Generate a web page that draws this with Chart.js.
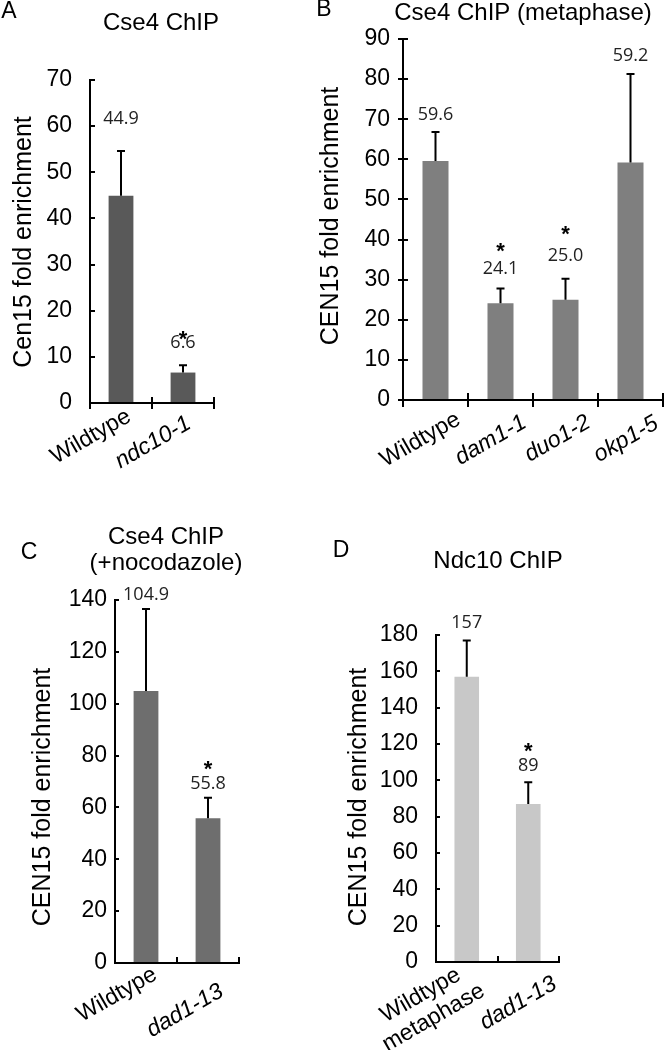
<!DOCTYPE html>
<html>
<head>
<meta charset="utf-8">
<script src="https://cdn.jsdelivr.net/npm/chart.js@4.4.1/dist/chart.umd.min.js"></script>
<style>
  body { margin: 0; background: #fff; width: 665px; height: 1050px; position: relative; overflow: hidden; }
  canvas { position: absolute; }
</style>
</head>
<body>
<canvas id="chartA" width="225" height="510" style="left:0;top:0"></canvas>
<canvas id="chartB" width="355" height="510" style="left:310px;top:0"></canvas>
<canvas id="chartC" width="250" height="530" style="left:0;top:520px"></canvas>
<canvas id="chartD" width="245" height="530" style="left:330px;top:520px"></canvas>
<script>
// Panel A - Cse4 ChIP
const aCategories = ['Wildtype', 'ndc10-1'];
const aValues = [44.9, 6.6];
const aErrors = [9.7, 1.6];
const aValueLabels = ['44.9', '6.6'];
const aSignificant = [false, true];
const aYMax = 70, aYStep = 10;

// Panel B - Cse4 ChIP (metaphase)
const bCategories = ['Wildtype', 'dam1-1', 'duo1-2', 'okp1-5'];
const bValues = [59.6, 24.1, 25.0, 59.2];
const bErrors = [7.2, 3.7, 5.2, 22.1];
const bValueLabels = ['59.6', '24.1', '25.0', '59.2'];
const bSignificant = [false, true, true, false];
const bYMax = 90, bYStep = 10;

// Panel C - Cse4 ChIP (+nocodazole)
const cCategories = ['Wildtype', 'dad1-13'];
const cValues = [104.9, 55.8];
const cErrors = [31.6, 7.9];
const cValueLabels = ['104.9', '55.8'];
const cSignificant = [false, true];
const cYMax = 140, cYStep = 20;

// Panel D - Ndc10 ChIP
const dCategories = [['Wildtype', 'metaphase'], 'dad1-13'];
const dValues = [157, 87];
const dErrors = [20, 12];
const dValueLabels = ['157', '89'];
const dSignificant = [false, true];
const dYMax = 180, dYStep = 20;

const AXIS_FONT = 'Liberation Sans';
const VALUE_FONT = 'Open Sans';
const TICK_SIZE = 23;

// error bars, value labels, stars, rotated category labels, letter, titles
const panelDecor = {
    id: 'panelDecor',
    afterDatasetsDraw(chart, args, o) {
        const ctx = chart.ctx;
        const xs = chart.scales.x, ys = chart.scales.y;
        const area = chart.chartArea;
        const data = chart.data.datasets[0].data;
        ctx.save();
        ctx.strokeStyle = '#000';
        ctx.lineWidth = 2;

        // inner halves of tick marks that cross the axis
        if (o.innerX) {
            const n = data.length;
            ctx.beginPath();
            for (let k = 1; k <= n; k++) {
                const x = Math.round(area.left + (area.right - area.left) * k / n);
                ctx.moveTo(x, area.bottom);
                ctx.lineTo(x, area.bottom - o.innerX);
            }
            ctx.stroke();
        }
        if (o.innerY) {
            ctx.beginPath();
            ys.ticks.forEach((t, i) => {
                const y = Math.round(ys.getPixelForTick(i));
                ctx.moveTo(area.left, y);
                ctx.lineTo(area.left + o.innerY, y);
            });
            ctx.stroke();
        }

        chart.getDatasetMeta(0).data.forEach((bar, i) => {
            const top = ys.getPixelForValue(data[i] + o.errors[i]);
            ctx.beginPath();
            ctx.moveTo(bar.x, bar.y);
            ctx.lineTo(bar.x, top);
            ctx.moveTo(bar.x - 4, top);
            ctx.lineTo(bar.x + 4, top);
            ctx.stroke();

            const ly = top - o.labelGaps[i];
            ctx.fillStyle = '#222';
            ctx.textAlign = 'center';
            ctx.textBaseline = 'middle';
            ctx.font = '18px "' + VALUE_FONT + '"';
            ctx.fillText(o.valueLabels[i], bar.x, ly);
            if (o.significant[i]) {
                ctx.fillStyle = '#000';
                ctx.font = 'bold 22px "' + AXIS_FONT + '"';
                ctx.textBaseline = 'alphabetic';
                ctx.fillText('*', bar.x, ly - o.starGaps[i] + 0.57 * 22);
            }
        });

        // rotated category labels, mutants in italics
        ctx.fillStyle = '#000';
        chart.data.labels.forEach((label, i) => {
            const lines = Array.isArray(label) ? label : [label];
            ctx.save();
            ctx.translate(xs.getPixelForValue(i) + o.xLabels.dx[i], area.bottom + o.xLabels.dy[i]);
            ctx.rotate(-30 * Math.PI / 180);
            ctx.font = (i > 0 ? 'italic ' : '') + TICK_SIZE + 'px "' + AXIS_FONT + '"';
            ctx.textAlign = 'right';
            ctx.textBaseline = 'alphabetic';
            const w0 = ctx.measureText(lines[0]).width;
            lines.forEach((line, j) => {
                const w = ctx.measureText(line).width;
                ctx.fillText(line, (w - w0) / 2, TICK_SIZE * 0.716 + j * 26);
            });
            ctx.restore();
        });

        ctx.textAlign = 'center';
        ctx.textBaseline = 'middle';
        ctx.font = '23px "' + AXIS_FONT + '"';
        ctx.fillText(o.letter[0], o.letter[1], o.letter[2]);
        ctx.font = '24px "' + AXIS_FONT + '"';
        o.title.lines.forEach((line, i) => {
            ctx.fillText(line, o.title.x, o.title.y + i * o.title.lineHeight);
        });
        ctx.save();
        ctx.translate(o.yTitle.x, o.yTitle.y);
        ctx.rotate(-Math.PI / 2);
        ctx.font = '25px "' + AXIS_FONT + '"';
        ctx.fillText(o.yTitle.text, 0, 0);
        ctx.restore();
        ctx.restore();
    }
};

function renderPanel(id, p) {
    return new Chart(document.getElementById(id), {
        type: 'bar',
        data: {
            labels: p.categories,
            datasets: [{
                data: p.values,
                backgroundColor: p.color,
                borderWidth: 0,
                categoryPercentage: 1,
                barPercentage: 0.4
            }]
        },
        options: {
            responsive: false,
            animation: false,
            events: [],
            layout: { padding: p.padding },
            plugins: {
                legend: { display: false },
                tooltip: { enabled: false },
                panelDecor: p.decor
            },
            scales: {
                x: {
                    grid: { drawOnChartArea: false, offset: true, tickLength: p.xTick, lineWidth: 2, color: '#000' },
                    border: { display: true, color: '#000', width: 2 },
                    ticks: { display: false },
                    afterFit: s => { s.height = p.xHeight; }
                },
                y: {
                    min: 0,
                    max: p.yMax,
                    grid: { drawOnChartArea: false, tickLength: p.yTick, lineWidth: 2, color: '#000' },
                    border: { display: true, color: '#000', width: 2 },
                    ticks: {
                        stepSize: p.yStep,
                        color: '#000',
                        padding: p.yPad,
                        font: { family: AXIS_FONT, size: TICK_SIZE }
                    },
                    afterFit: s => { s.width = p.yWidth; }
                }
            }
        },
        plugins: [panelDecor]
    });
}

renderPanel('chartA', {
    categories: aCategories, values: aValues, yMax: aYMax, yStep: aYStep,
    color: '#595959',
    padding: { left: 0, right: 11, top: 80, bottom: 27 },
    yWidth: 90, xHeight: 80,
    yTick: -5, yPad: 23, xTick: 6,
    decor: {
        errors: aErrors, valueLabels: aValueLabels, significant: aSignificant,
        labelGaps: [32, 22], starGaps: [0, 10],
        innerX: 6, innerY: 0,
        xLabels: { dx: [3, 1], dy: [3, 10] },
        letter: ['A', 9, 12],
        title: { lines: ['Cse4 ChIP'], x: 161, y: 23, lineHeight: 26 },
        yTitle: { text: 'Cen15 fold enrichment', x: 24, y: 242 }
    }
});

renderPanel('chartB', {
    categories: bCategories, values: bValues, yMax: bYMax, yStep: bYStep,
    color: '#7f7f7f',
    padding: { left: 0, right: 2, top: 39, bottom: 30 },
    yWidth: 93, xHeight: 80,
    yTick: 5, yPad: 8, xTick: 7,
    decor: {
        errors: bErrors, valueLabels: bValueLabels, significant: bSignificant,
        labelGaps: [17, 19.5, 22.5, 18], starGaps: [0, 23.5, 27.5, 0],
        innerX: 7, innerY: 5,
        xLabels: { dx: [18, 19, 18, 21], dy: [9, 12, 12, 13] },
        letter: ['B', 14, 10],
        title: { lines: ['Cse4 ChIP (metaphase)'], x: 213, y: 13, lineHeight: 26 },
        yTitle: { text: 'CEN15 fold enrichment', x: 21, y: 216 }
    }
});

renderPanel('chartC', {
    categories: cCategories, values: cValues, yMax: cYMax, yStep: cYStep,
    color: '#6e6e6e',
    padding: { left: 0, right: 11, top: 80, bottom: 17 },
    yWidth: 115, xHeight: 70,
    yTick: -4, yPad: 12, xTick: -6,
    decor: {
        errors: cErrors, valueLabels: cValueLabels, significant: cSignificant,
        labelGaps: [14, 14], starGaps: [0, 20.5],
        innerX: 0, innerY: 0,
        xLabels: { dx: [4, 8.5], dy: [1, 18] },
        letter: ['C', 29, 33],
        title: { lines: ['Cse4 ChIP', '(+nocodazole)'], x: 166, y: 17, lineHeight: 26 },
        yTitle: { text: 'CEN15 fold enrichment', x: 43, y: 277 }
    }
});

renderPanel('chartD', {
    categories: dCategories, values: dValues, yMax: dYMax, yStep: dYStep,
    color: '#c8c8c8',
    padding: { left: 0, right: 16, top: 115, bottom: 18 },
    yWidth: 106, xHeight: 70,
    yTick: -4, yPad: 22, xTick: -6,
    decor: {
        errors: dErrors, valueLabels: dValueLabels, significant: dSignificant,
        labelGaps: [17.5, 16], starGaps: [0, 20.5],
        innerX: 0, innerY: 0,
        xLabels: { dx: [-13, 21.5], dy: [2.5, 11.5] },
        letter: ['D', 11, 31],
        title: { lines: ['Ndc10 ChIP'], x: 168, y: 41, lineHeight: 26 },
        yTitle: { text: 'CEN15 fold enrichment', x: 29, y: 277 }
    }
});
</script>
</body>
</html>
